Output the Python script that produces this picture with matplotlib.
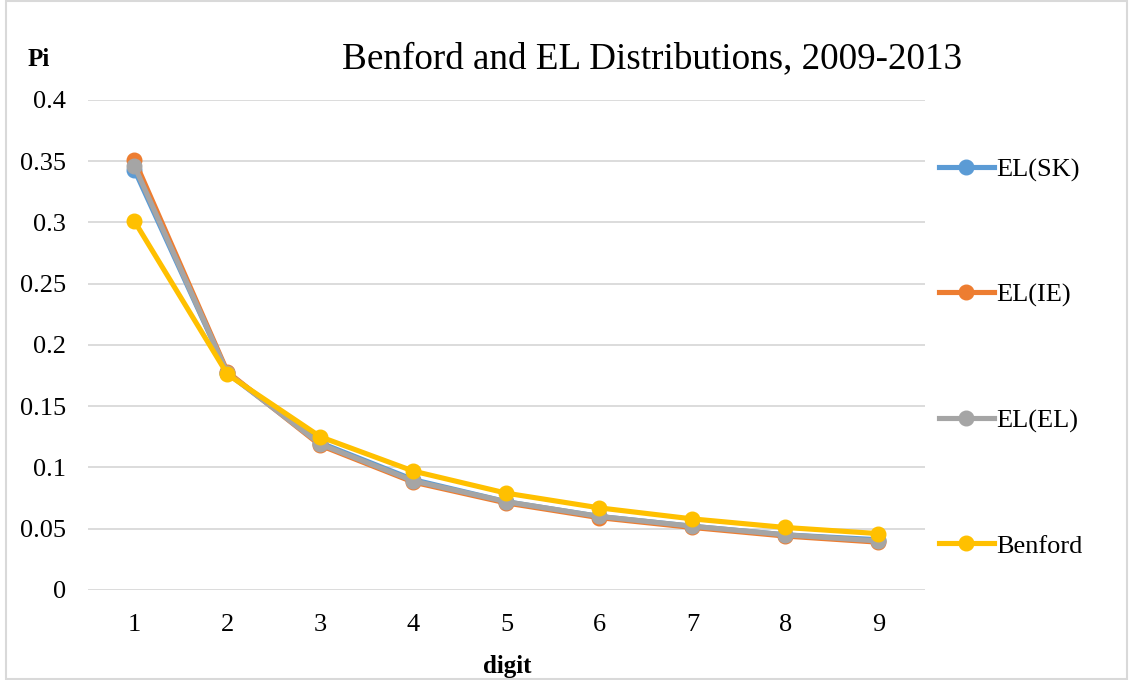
import matplotlib.pyplot as plt
from matplotlib.patches import Rectangle

#data
digits = [1, 2, 3, 4, 5, 6, 7, 8, 9]
el_sk = [0.343, 0.177, 0.120, 0.090, 0.072, 0.060, 0.052, 0.045, 0.041]
el_ie = [0.351, 0.178, 0.118, 0.088, 0.071, 0.059, 0.051, 0.044, 0.039]
el_el = [0.346, 0.177, 0.119, 0.089, 0.072, 0.060, 0.052, 0.045, 0.040]
benford = [0.301, 0.176, 0.125, 0.097, 0.079, 0.067, 0.058, 0.051, 0.046]
y_ticks = [0, 0.05, 0.1, 0.15, 0.2, 0.25, 0.3, 0.35, 0.4]
y_tick_labels = ['0', '0.05', '0.1', '0.15', '0.2', '0.25', '0.3', '0.35', '0.4']

plt.rcParams['font.family'] = ['Liberation Serif', 'DejaVu Serif']

fig = plt.figure(figsize=(11.29, 6.80), dpi=100)
ax = fig.add_axes([0.0779, 0.1324, 0.7414, 0.7206])

series = [
    (el_sk, '#5B9BD5', 'EL(SK)'),
    (el_ie, '#ED7D31', 'EL(IE)'),
    (el_el, '#A5A5A5', 'EL(EL)'),
    (benford, '#FFC000', 'Benford'),
]
for vals, col, lab in series:
    ax.plot(digits, vals, '-o', color=col, lw=3.7, ms=10.5, label=lab, zorder=3)

ax.set_xlim(0.5, 9.5)
ax.set_ylim(0, 0.4)
ax.set_xticks(digits)
ax.set_yticks(y_ticks)
ax.set_yticklabels(y_tick_labels)
ax.tick_params(length=0, labelsize=19, colors='#000000')
ax.tick_params(axis='x', pad=17)
ax.tick_params(axis='y', pad=16)
ax.grid(axis='y', color='#D9D9D9', lw=1.3)
ax.set_axisbelow(True)
for s in ax.spines.values():
    s.set_visible(False)

fig.text(0.578, 0.913, 'Benford and EL Distributions, 2009-2013', fontsize=26.7,
         ha='center', va='center')
fig.text(0.034, 0.912, 'Pi', fontsize=18, fontweight='bold', ha='center', va='center')
fig.text(0.449, 0.020, 'digit', fontsize=18, fontweight='bold', ha='center', va='center')

ax.legend(loc='center left', bbox_to_anchor=(0.822, 0.474), bbox_transform=fig.transFigure,
          frameon=False, fontsize=19, labelspacing=3.85, handlelength=2.1,
          handletextpad=0.1, borderaxespad=0)

fig.add_artist(Rectangle((0.005, 0.002), 0.993, 0.996, transform=fig.transFigure,
                         fill=False, edgecolor='#D9D9D9', lw=1.5))

plt.savefig('out.png', dpi=100)
